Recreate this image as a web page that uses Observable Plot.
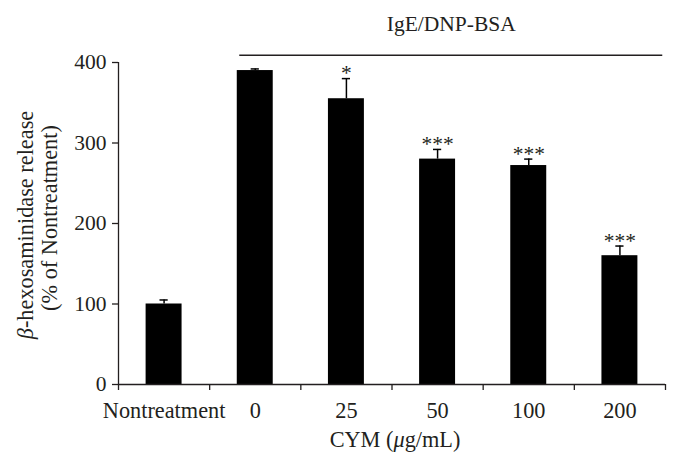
<!DOCTYPE html>
<html>
<head>
<meta charset="utf-8">
<script src="https://cdn.jsdelivr.net/npm/d3@7"></script>
<script src="https://cdn.jsdelivr.net/npm/@observablehq/plot@0.6"></script>
<style>
  body { margin: 0; background: #fff; }
  #chart { width: 679px; height: 468px; }
  #chart svg, #chart svg text, #chart svg tspan { font-family: "Liberation Serif", "Times New Roman", serif !important; }
</style>
</head>
<body>
<div id="chart"></div>
<script>
const categories = ["Nontreatment", "0", "25", "50", "100", "200"];
const means = [100, 390, 355, 280, 272, 160];
const errors = [5, 2, 25, 12, 8, 12];
const stars = ["", "", "*", "***", "***", "***"];
const yTicks = [0, 100, 200, 300, 400];
const groupLabel = "IgE/DNP-BSA";
const groupFirst = "0";
const bracketLevel = 409;
const xTitleParts = ["CYM (", "\u03bc", "g/mL)"];
const yTitleLine1 = ["\u03b2", "-hexosaminidase release"];
const yTitleLine2 = "(% of Nontreatment)";

const ink = "#231f20";
const fs = 21.5;
const fsBig = 22.3;
const n = categories.length;
const data = categories.map((c, i) => ({i, c, mean: means[i], err: errors[i], star: stars[i]}));
const gStart = categories.indexOf(groupFirst);

const chart = Plot.plot({
  width: 679,
  height: 468,
  marginLeft: 118,
  marginRight: 14,
  marginTop: 62,
  marginBottom: 84,
  style: {fontFamily: "Liberation Serif, serif", fontSize: fs + "px", color: ink, background: "white"},
  x: {type: "linear", domain: [0, n], axis: null},
  y: {domain: [0, 400], axis: null},
  marks: [
    Plot.rectY(data, {x1: d => d.i, x2: d => d.i + 1, y: "mean", insetLeft: 27.6, insetRight: 27.6, fill: "#000"}),
    Plot.ruleX(data, {x: d => d.i + 0.5, y1: "mean", y2: d => d.mean + d.err, stroke: "#000", strokeWidth: 1.5}),
    Plot.ruleY(data, {y: d => d.mean + d.err, x1: d => d.i + 0.455, x2: d => d.i + 0.545, stroke: "#000", strokeWidth: 1.5}),
    Plot.text(data, {x: d => d.i + 0.5, y: d => d.mean + d.err, text: "star", lineAnchor: "middle", dy: -5, fill: ink, fontSize: fs, ariaLabel: "stars"}),
    Plot.ruleX([0], {y1: 0, y2: d3.max(yTicks), stroke: ink, strokeWidth: 1.3}),
    Plot.ruleY([0], {x1: 0, x2: n, stroke: ink, strokeWidth: 1.3}),
    Plot.axisY({ticks: yTicks, tickSize: 6, tickPadding: 6, stroke: ink, strokeWidth: 1.3, fill: ink, fontSize: fs, label: null}),
    Plot.axisX({ticks: d3.range(0, n + 1), tickSize: 6, tickFormat: () => "", stroke: ink, strokeWidth: 1.3, label: null}),
    Plot.text(data, {x: d => d.i + 0.5, y: 0, text: "c", lineAnchor: "middle", dy: 26, fill: ink, fontSize: fsBig}),
    Plot.ruleY([bracketLevel], {x1: gStart + 0.33, x2: n - 0.03, stroke: ink, strokeWidth: 1.5}),
    Plot.text([groupLabel], {x: (gStart + 0.33 + n - 0.03) / 2, y: bracketLevel, text: d => d, lineAnchor: "middle", dy: -31, fill: ink, fontSize: fs})
  ]
});

const svg = d3.select(chart);
svg.selectAll('g[aria-label="stars"] text').style("letter-spacing", "2px");

const xt = svg.append("text")
  .attr("x", 395).attr("y", 447)
  .attr("text-anchor", "middle").attr("fill", ink).attr("font-size", fsBig);
xt.append("tspan").text(xTitleParts[0]);
xt.append("tspan").attr("font-style", "italic").text(xTitleParts[1]);
xt.append("tspan").text(xTitleParts[2]);

const y1 = svg.append("text")
  .attr("transform", "translate(33,225) rotate(-90)")
  .attr("text-anchor", "middle").attr("fill", ink).attr("font-size", fsBig);
y1.append("tspan").attr("font-style", "italic").text(yTitleLine1[0]);
y1.append("tspan").text(yTitleLine1[1]);

svg.append("text")
  .attr("transform", "translate(57,218) rotate(-90)")
  .attr("text-anchor", "middle").attr("fill", ink).attr("font-size", fsBig)
  .text(yTitleLine2);

document.getElementById("chart").appendChild(chart);
</script>
</body>
</html>
